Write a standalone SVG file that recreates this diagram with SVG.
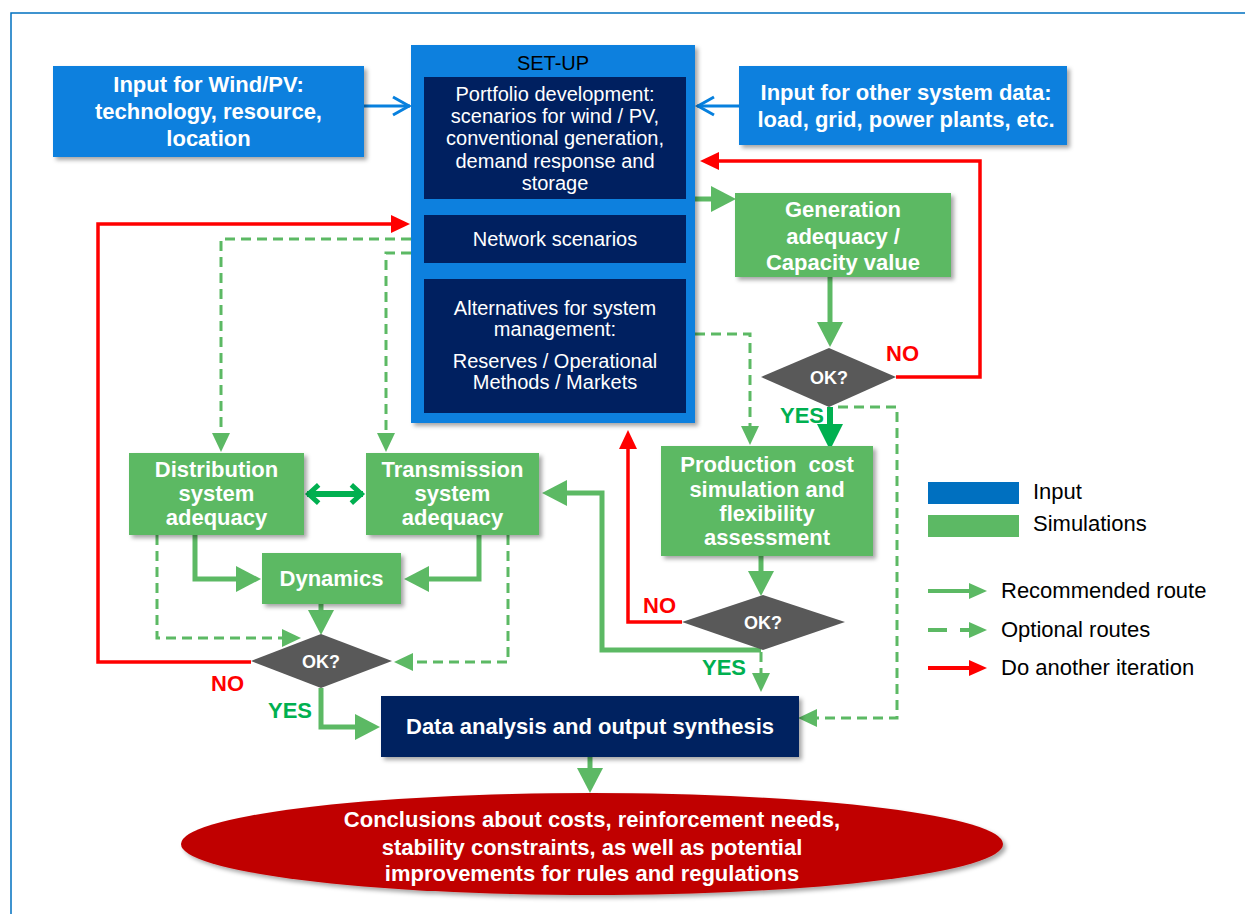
<svg xmlns="http://www.w3.org/2000/svg" width="1245" height="914" viewBox="0 0 1245 914">
<style>
text{font-family:"Liberation Sans",Arial,sans-serif}
.bw{fill:#fff;font-weight:bold;font-size:22px;text-anchor:middle}
.rw{fill:#fff;font-size:20px;text-anchor:middle}
.ok{fill:#fff;font-weight:bold;font-size:18px;text-anchor:middle}
.no{fill:#f00;font-weight:bold;font-size:22px}
.yes{fill:#00B050;font-weight:bold;font-size:22px}
.lg{fill:#000;font-size:22px}
.inp{fill:#0780DE}
.nav{fill:#002060}
.sim{fill:#5CB964}
.dia{fill:#595959}
.g{fill:none;stroke:#5CB964;stroke-width:5}
.gd{fill:none;stroke:#5CB964;stroke-width:3;stroke-dasharray:10 6}
.r{fill:none;stroke:#f00;stroke-width:3.5}
.b{fill:none;stroke:#0780DE;stroke-width:3}
.dg{fill:none;stroke:#00B050;stroke-width:6}
</style>
<defs>
<filter id="sh" x="-10%" y="-10%" width="130%" height="140%">
<feDropShadow dx="3" dy="3" stdDeviation="2" flood-color="#000" flood-opacity="0.35"/>
</filter>
<marker id="ag" markerUnits="userSpaceOnUse" markerWidth="26" markerHeight="26" viewBox="0 -13 26 26" refX="0" refY="0" orient="auto" overflow="visible"><path d="M-1,-13 L24,0 L-1,13z" fill="#5CB964"/></marker>
<marker id="adg" markerUnits="userSpaceOnUse" markerWidth="26" markerHeight="26" viewBox="0 -13 26 26" refX="0" refY="0" orient="auto" overflow="visible"><path d="M-1,-13 L25,0 L-1,13z" fill="#00B050"/></marker>
<marker id="ad" markerUnits="userSpaceOnUse" markerWidth="18" markerHeight="18" viewBox="0 -9 18 18" refX="0" refY="0" orient="auto" overflow="visible"><path d="M-1,-9 L18,0 L-1,9z" fill="#5CB964"/></marker>
<marker id="ar" markerUnits="userSpaceOnUse" markerWidth="18" markerHeight="18" viewBox="0 -9 18 18" refX="0" refY="0" orient="auto" overflow="visible"><path d="M-1,-9 L18,0 L-1,9z" fill="#f00"/></marker>
<marker id="ab" markerUnits="userSpaceOnUse" markerWidth="20" markerHeight="20" viewBox="-20 -10 20 20" refX="0" refY="0" orient="auto" overflow="visible"><path d="M-17,-9 L-1,0 L-17,9" fill="none" stroke="#0780DE" stroke-width="3"/></marker>
<marker id="cv" markerUnits="userSpaceOnUse" markerWidth="20" markerHeight="20" viewBox="-20 -12 20 24" refX="0" refY="0" orient="auto-start-reverse" overflow="visible"><path d="M-14,-11 L-2,0 L-14,11" fill="none" stroke="#00B050" stroke-width="6"/></marker>
<marker id="lg" markerUnits="userSpaceOnUse" markerWidth="18" markerHeight="16" viewBox="0 -8 18 16" refX="0" refY="0" orient="auto" overflow="visible"><path d="M-1,-8 L17,0 L-1,8z" fill="#5CB964"/></marker>
<marker id="lr" markerUnits="userSpaceOnUse" markerWidth="18" markerHeight="16" viewBox="0 -8 18 16" refX="0" refY="0" orient="auto" overflow="visible"><path d="M-1,-8 L17,0 L-1,8z" fill="#f00"/></marker>
</defs>

<rect x="11" y="13" width="1250" height="910" fill="#fff" stroke="#0070C0" stroke-width="1.5"/>

<g id="connectors">
<path class="b" d="M364,106 L410,106" marker-end="url(#ab)"/>
<path class="b" d="M739,106 L697,106" marker-end="url(#ab)"/>
<path class="g" d="M695,199 L712,199" marker-end="url(#ag)"/>
<path class="g" d="M830,277 L830,323" marker-end="url(#ag)"/>
<path class="dg" d="M830,407 L830,425" marker-end="url(#adg)"/>
<path class="r" d="M896,377 L980,377 L980,161 L718,161" marker-end="url(#ar)"/>
<path class="gd" d="M838,407 L897,407 L897,718 L816,718" marker-end="url(#ad)"/>
<path class="gd" d="M695,334 L750,334 L750,427" marker-end="url(#ad)"/>
<path class="g" d="M761,556 L761,572" marker-end="url(#ag)"/>
<path class="r" d="M682,622 L628,622 L628,448" marker-end="url(#ar)"/>
<path class="g" d="M761,650 L602,650 L602,493 L566,493" marker-end="url(#ag)"/>
<path class="gd" d="M761,652 L761,674" marker-end="url(#ad)"/>
<path class="r" d="M251,662 L98,662 L98,224 L392,224" marker-end="url(#ar)"/>
<path class="gd" d="M411,239 L221,239 L221,434" marker-end="url(#ad)"/>
<path class="gd" d="M411,253 L386,253 L386,434" marker-end="url(#ad)"/>
<path class="dg" d="M307,494 L363,494" marker-start="url(#cv)" marker-end="url(#cv)"/>
<path class="g" d="M195,535 L195,579 L237,579" marker-end="url(#ag)"/>
<path class="g" d="M479,535 L479,579 L428,579" marker-end="url(#ag)"/>
<path class="g" d="M321,604 L321,611" marker-end="url(#ag)"/>
<path class="gd" d="M157,535 L157,638 L283,638" marker-end="url(#ad)"/>
<path class="gd" d="M508,535 L508,662 L412,662" marker-end="url(#ad)"/>
<path class="g" d="M321,688 L321,727 L356,727" marker-end="url(#ag)"/>
<path class="g" d="M590,757 L590,769" marker-end="url(#ag)"/>
</g>

<g id="input-wind">
<rect class="inp" x="53" y="66" width="311" height="91" filter="url(#sh)"/>
<text class="bw" x="208.5" y="92">Input for Wind/PV:</text>
<text class="bw" x="208.5" y="119">technology, resource,</text>
<text class="bw" x="208.5" y="146">location</text>
</g>

<g id="input-other">
<rect class="inp" x="739" y="66" width="328" height="79" filter="url(#sh)"/>
<text class="bw" x="906" y="100">Input for other system data:</text>
<text class="bw" x="906" y="127">load, grid, power plants, etc.</text>
</g>

<g id="setup">
<rect class="inp" x="411" y="45" width="284" height="378" filter="url(#sh)"/>
<text x="553" y="70" font-size="20" text-anchor="middle" fill="#000">SET-UP</text>
<rect class="nav" x="424" y="77" width="262" height="122"/>
<text class="rw" x="555" y="101">Portfolio development:</text>
<text class="rw" x="555" y="123">scenarios for wind / PV,</text>
<text class="rw" x="555" y="145">conventional generation,</text>
<text class="rw" x="555" y="168">demand response and</text>
<text class="rw" x="555" y="190">storage</text>
<rect class="nav" x="424" y="215" width="262" height="48"/>
<text class="rw" x="555" y="246">Network scenarios</text>
<rect class="nav" x="424" y="279" width="262" height="134"/>
<text class="rw" x="555" y="315">Alternatives for system</text>
<text class="rw" x="555" y="336">management:</text>
<text class="rw" x="555" y="368">Reserves / Operational</text>
<text class="rw" x="555" y="389">Methods / Markets</text>
</g>

<g id="gen-adequacy">
<rect class="sim" x="735" y="193" width="216" height="84" filter="url(#sh)"/>
<text class="bw" x="843" y="217">Generation</text>
<text class="bw" x="843" y="244">adequacy /</text>
<text class="bw" x="843" y="270">Capacity value</text>
</g>

<g id="ok1">
<polygon class="dia" points="761,377 829,348 896,377 829,407"/>
<text class="ok" x="829" y="384">OK?</text>
<text class="no" x="886" y="361">NO</text>
<text class="yes" x="780" y="423">YES</text>
</g>

<g id="production">
<rect class="sim" x="661" y="446" width="212" height="110" filter="url(#sh)"/>
<text class="bw" x="767" y="472" xml:space="preserve">Production  cost</text>
<text class="bw" x="767" y="497">simulation and</text>
<text class="bw" x="767" y="521">flexibility</text>
<text class="bw" x="767" y="545">assessment</text>
</g>

<g id="ok2">
<polygon class="dia" points="682,622 763,595 845,622 763,650"/>
<text class="ok" x="763" y="629">OK?</text>
<text class="no" x="643" y="613">NO</text>
<text class="yes" x="702" y="675">YES</text>
</g>

<g id="distribution">
<rect class="sim" x="129" y="453" width="175" height="82" filter="url(#sh)"/>
<text class="bw" x="216.5" y="477">Distribution</text>
<text class="bw" x="216.5" y="501">system</text>
<text class="bw" x="216.5" y="525">adequacy</text>
</g>

<g id="transmission">
<rect class="sim" x="366" y="453" width="173" height="82" filter="url(#sh)"/>
<text class="bw" x="452.5" y="477">Transmission</text>
<text class="bw" x="452.5" y="501">system</text>
<text class="bw" x="452.5" y="525">adequacy</text>
</g>

<g id="dynamics">
<rect class="sim" x="262" y="553" width="139" height="51" filter="url(#sh)"/>
<text class="bw" x="331.5" y="586">Dynamics</text>
</g>

<g id="ok3">
<polygon class="dia" points="251,661 321,634 392,661 321,688"/>
<text class="ok" x="321" y="668">OK?</text>
<text class="no" x="211" y="691">NO</text>
<text class="yes" x="268" y="718">YES</text>
</g>

<g id="data-analysis">
<rect class="nav" x="381" y="696" width="418" height="61" filter="url(#sh)"/>
<text class="bw" x="590" y="734">Data analysis and output synthesis</text>
</g>

<g id="conclusions">
<ellipse cx="592" cy="844" rx="411" ry="51" fill="#C00000" filter="url(#sh)"/>
<text class="bw" x="592" y="827">Conclusions about costs, reinforcement needs,</text>
<text class="bw" x="592" y="855">stability constraints, as well as potential</text>
<text class="bw" x="592" y="881">improvements for rules and regulations</text>
</g>

<g id="legend">
<rect x="928" y="482" width="91" height="22" fill="#0070C0"/>
<text class="lg" x="1033" y="499">Input</text>
<rect class="sim" x="928" y="515" width="91" height="22"/>
<text class="lg" x="1033" y="531">Simulations</text>
<path d="M928,591 L970,591" fill="none" stroke="#5CB964" stroke-width="4" marker-end="url(#lg)"/>
<text class="lg" x="1001" y="598">Recommended route</text>
<path d="M928,630 L970,630" fill="none" stroke="#5CB964" stroke-width="4" stroke-dasharray="19 13" marker-end="url(#lg)"/>
<text class="lg" x="1001" y="637">Optional routes</text>
<path d="M928,668 L970,668" fill="none" stroke="#f00" stroke-width="4" marker-end="url(#lr)"/>
<text class="lg" x="1001" y="675">Do another iteration</text>
</g>
</svg>
